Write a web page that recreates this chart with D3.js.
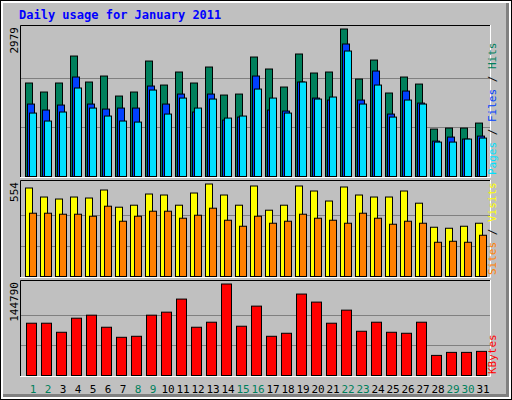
<!DOCTYPE html>
<html><head><meta charset="utf-8">
<script src="https://cdn.jsdelivr.net/npm/d3@7"></script>
<style>body{margin:0;background:#fff}svg{display:block}</style>
</head><body><svg width="512" height="400"></svg>
<script>
const days = d3.range(1, 32);
const weekend = [1, 2, 8, 9, 15, 16, 22, 23, 29, 30];
const hits = [1888,1706,1888,2433,1908,2029,1625,1706,2332,1847,2110,1888,2211,1645,1665,2413,2171,1807,2474,2090,2110,2979,1968,2352,1686,2009,1867,958,978,978,1079];
const files = [1463,1342,1443,2009,1463,1362,1382,1382,1827,1463,1665,1302,1665,1140,1200,2029,1342,1322,1908,1584,1544,2676,1544,2130,1261,1726,1483,715,796,756,816];
const pages = [1281,1120,1302,1787,1382,1221,1120,1099,1746,1261,1584,1382,1564,1180,1221,1766,1584,1281,1908,1564,1605,2534,1463,1847,1200,1544,1463,695,695,756,776];
const visits = [530,476,464,476,470,518,415,427,494,488,427,500,554,488,427,542,397,427,542,512,452,536,488,476,476,512,439,295,289,301,319];
const sites = [379,379,373,373,361,421,331,361,391,391,349,367,409,337,301,361,319,331,373,349,337,319,379,349,313,331,319,205,211,205,247];
const kbytes = [82736,82736,68413,90687,95460,76368,60458,62049,95460,100233,120916,76368,84323,144790,77959,109779,62049,66822,128871,116143,82736,103415,70004,84323,68413,66822,84323,31820,36593,36593,38184];

const svg = d3.select('svg');
const mono = 'DejaVu Sans Mono, monospace';

// frame
svg.append('rect').attr('x', 0).attr('y', 0).attr('width', 512).attr('height', 400).attr('fill', '#000');
svg.append('rect').attr('x', 1).attr('y', 1).attr('width', 510).attr('height', 398).attr('fill', '#fff');
svg.append('rect').attr('x', 3).attr('y', 3).attr('width', 506).attr('height', 394).attr('fill', '#808080');
svg.append('rect').attr('x', 3).attr('y', 3).attr('width', 503).attr('height', 391).attr('fill', '#c0c0c0');

svg.append('text').attr('x', 19).attr('y', 19)
  .attr('font-family', mono).attr('font-size', 12).attr('font-weight', 'bold')
  .attr('fill', '#0000ff').text('Daily usage for January 2011');

const x = d3.scaleBand().domain(days).range([22, 22 + 31 * 15]);

const panels = [
  {top: 25, bottom: 177, max: 2979, label: '2979',
   series: [{v: hits, c: '#00805c', off: 3}, {v: files, c: '#0040ff', off: 5}, {v: pages, c: '#00e0ff', off: 7}],
   legend: [['Pages', '#00e0ff'], [' / ', '#000'], ['Files', '#0040ff'], [' / ', '#000'], ['Hits', '#00805c']]},
  {top: 180, bottom: 277, max: 554, label: '554',
   series: [{v: visits, c: '#ffff00', off: 3}, {v: sites, c: '#ff8000', off: 7}],
   legend: [['Sites', '#ff8000'], [' / ', '#000'], ['Visits', '#ffff00']]},
  {top: 280, bottom: 376, max: 144790, label: '144790',
   series: [{v: kbytes, c: '#ff0000', off: 4, w: 10}],
   legend: [['KBytes', '#ff0000']]}
];

panels.forEach(p => {
  const base = p.bottom - 0.5;
  const y = d3.scaleLinear().domain([0, p.max]).range([base, p.top + 4]);
  svg.append('rect').attr('x', 20).attr('y', p.top).attr('width', 471).attr('height', p.bottom - p.top)
    .attr('fill', '#c0c0c0');
  svg.append('path').attr('d', `M20.5,${p.bottom}V${p.top + 0.5}H491`).attr('stroke', '#000').attr('fill', 'none');
  svg.append('path').attr('d', `M490.5,${p.top}V${p.bottom + 0.5}H20`).attr('stroke', '#fff').attr('fill', 'none');
  [1, 2].forEach(k => {
    const gy = Math.round(y(p.max * k / 3)) + 0.5;
    svg.append('line').attr('x1', 21).attr('x2', 490).attr('y1', gy).attr('y2', gy).attr('stroke', '#808080');
  });
  p.series.forEach(s => {
    svg.append('g').selectAll('rect').data(days).join('rect')
      .attr('x', d => x(d) + s.off + 0.5)
      .attr('y', (d, i) => y(s.v[i]))
      .attr('width', s.w || 7)
      .attr('height', (d, i) => base - y(s.v[i]))
      .attr('fill', s.c).attr('stroke', '#000');
  });
  svg.append('text').attr('transform', `translate(18,${p.top + 2}) rotate(-90)`)
    .attr('text-anchor', 'end').attr('font-family', mono).attr('font-size', 11).text(p.label);
  const t = svg.append('text').attr('transform', `translate(496,${p.bottom - 2}) rotate(-90)`)
    .attr('font-family', mono).attr('font-size', 11);
  p.legend.forEach(([s, c]) => t.append('tspan').attr('fill', c).text(s));
});

svg.append('g').selectAll('text').data(days).join('text')
  .attr('x', d => x(d) + 11).attr('y', 393)
  .attr('text-anchor', 'middle').attr('font-family', mono).attr('font-size', 11)
  .attr('fill', d => weekend.includes(d) ? '#00805c' : '#000')
  .text(d => d);
</script></body></html>
